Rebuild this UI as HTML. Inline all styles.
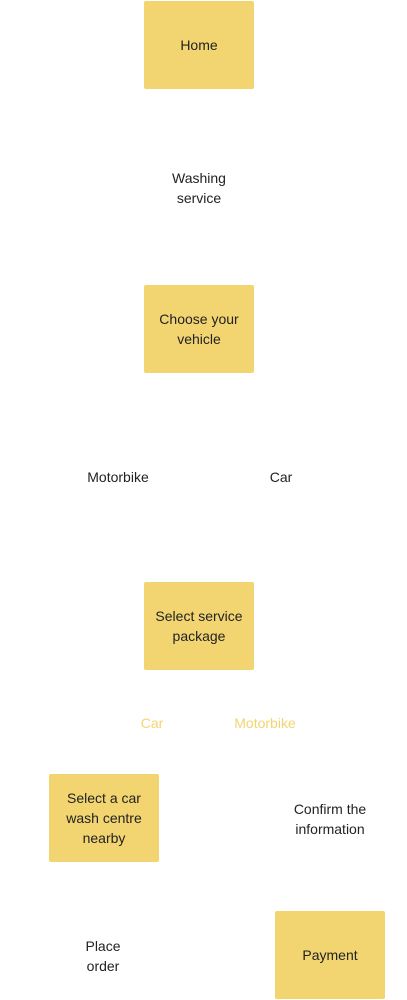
<!DOCTYPE html>
<html><head><style>
body{margin:0;width:407px;height:1000px;background:#fff;position:relative;overflow:hidden;font-family:"Liberation Sans",sans-serif;font-size:14px;color:#222}
.b{position:absolute;width:110px;height:88px;background:#f2d570;border-radius:2px;display:flex;align-items:center;justify-content:center;text-align:center;line-height:20px;box-sizing:border-box;padding:0 6px}
.t{position:absolute;text-align:center;line-height:20px;transform:translateX(-50%);white-space:nowrap}
.y{color:#f2d570}
</style></head><body>
<div class="b" style="left:144px;top:1px">Home</div>
<div class="t" style="left:199px;top:168px">Washing<br>service</div>
<div class="b" style="left:144px;top:285px">Choose your vehicle</div>
<div class="t" style="left:118px;top:467px">Motorbike</div>
<div class="t" style="left:281px;top:467px">Car</div>
<div class="b" style="left:144px;top:582px">Select service package</div>
<div class="t y" style="left:152px;top:713px">Car</div>
<div class="t y" style="left:265px;top:713px">Motorbike</div>
<div class="b" style="left:49px;top:774px">Select a car wash centre nearby</div>
<div class="t" style="left:330px;top:799px">Confirm the<br>information</div>
<div class="t" style="left:103px;top:936px">Place<br>order</div>
<div class="b" style="left:275px;top:911px">Payment</div>
</body></html>
